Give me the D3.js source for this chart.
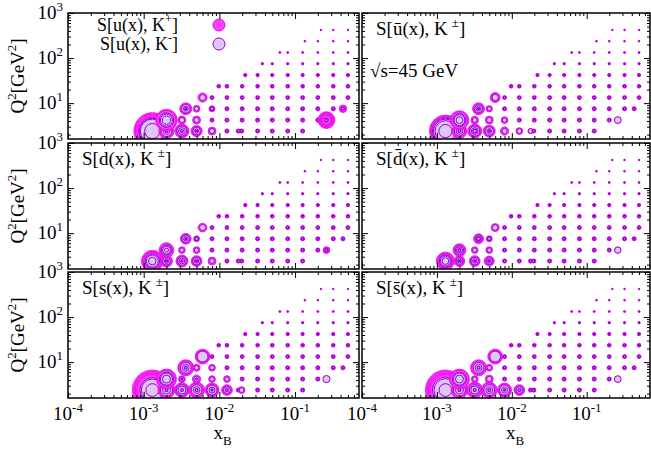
<!DOCTYPE html>
<html>
<head>
<meta charset="utf-8">
<script src="https://cdn.jsdelivr.net/npm/d3@7"></script>
<style>
  body { margin: 0; background: #fff; }
  svg text { font-family: "Liberation Serif", "Times New Roman", serif; fill: #000; }
</style>
</head>
<body>
<svg width="651" height="452"></svg>
<script>
// Q2 rows of the (x, Q2) bins and the x centres inside each row
const q2Rows = [2.4, 4.2, 7.5, 13.3, 23.7, 42, 75, 133, 237, 420];
const xRows = [
    [1.3e-3, 2.0e-3, 3.2e-3, 5.0e-3, 8.0e-3, 1.26e-2, 1.78e-2, 1.97e-2, 3.2e-2, 5.0e-2, 8.0e-2, 0.126],
    [2.0e-3, 3.2e-3, 5.0e-3, 8.0e-3, 1.26e-2, 2.0e-2, 3.2e-2, 5.0e-2, 8.0e-2, 0.126, 0.2, 0.26],
    [3.6e-3, 5.0e-3, 8.0e-3, 1.26e-2, 2.0e-2, 3.2e-2, 5.0e-2, 8.0e-2, 0.126, 0.2, 0.32, 0.43],
    [6.0e-3, 8.0e-3, 1.26e-2, 2.0e-2, 3.2e-2, 5.0e-2, 8.0e-2, 0.126, 0.2, 0.32, 0.5],
    [9.8e-3, 1.26e-2, 2.0e-2, 3.2e-2, 5.0e-2, 8.0e-2, 0.126, 0.2, 0.32, 0.5],
    [2.2e-2, 3.2e-2, 5.0e-2, 8.0e-2, 0.126, 0.2, 0.32, 0.5],
    [3.7e-2, 5.0e-2, 8.0e-2, 0.126, 0.2, 0.32, 0.5],
    [6.3e-2, 8.0e-2, 0.126, 0.2, 0.32, 0.5],
    [0.135, 0.2, 0.32, 0.5],
    [0.22, 0.32, 0.5]
];

// typical |S| of the small points in each Q2 row (K+ and K-)
const dotPlus = [10.5, 10.5, 10.5, 10, 9.5, 8.5, 6, 5, 4.5, 4];
const dotMinus = [6.5, 6.5, 6.5, 6, 5.5, 4.5, 2.5, 2, 1.5, 1.5];

// bins with larger sensitivity: [x, Q2, K+ values, K- values] (one value per z bin)
const ringsU = [
    [1.3e-3, 2.4, [92, 85, 78, 70], [65, 60, 38]],
    [2.0e-3, 2.4, [38, 32], [27, 17, 7]],
    [2.0e-3, 4.2, [54, 48], [36, 30, 21]],
    [3.2e-3, 2.4, [35, 30], [25, 17, 7]],
    [3.2e-3, 4.2, [20], [13]],
    [3.6e-3, 7.5, [30, 25], [21, 12, 5]],
    [5.0e-3, 2.4, [28, 23], [19, 10, 4]],
    [5.0e-3, 4.2, [20], [13]],
    [5.0e-3, 7.5, [17], [11]],
    [6.0e-3, 13.3, [23], [15]],
    [8.0e-3, 2.4, [20], [13]],
    [8.0e-3, 7.5, [15], [9]],
    [0.26, 4.2, [42, 37, 32, 27, 22], [8]],
    [0.43, 7.5, [19, 15], [7]]
];
const ringsUbar = [
    [1.3e-3, 2.4, [80, 75, 70], [65, 60, 52, 33]],
    [2.0e-3, 2.4, [37, 32], [25, 17, 7]],
    [2.0e-3, 4.2, [47, 42], [32, 27, 17]],
    [3.2e-3, 2.4, [35, 30], [25, 17, 9]],
    [3.2e-3, 4.2, [19], [12]],
    [3.6e-3, 7.5, [30, 25], [20, 12, 5]],
    [5.0e-3, 2.4, [30, 25], [21, 12, 5]],
    [5.0e-3, 4.2, [20], [13]],
    [5.0e-3, 7.5, [16], [10]],
    [6.0e-3, 13.3, [25, 20], [16]],
    [8.0e-3, 2.4, [21], [13]],
    [8.0e-3, 4.2, [17], [11]],
    [1.26e-2, 2.4, [17], [12]],
    [1.78e-2, 2.4, [13], [12]],
    [0.26, 4.2, [15], [17]]
];
const ringsD = [
    [1.3e-3, 2.4, [54, 48, 43], [36, 30, 19]],
    [2.0e-3, 2.4, [30, 25], [20, 12, 5]],
    [2.0e-3, 4.2, [37, 32], [25, 20, 10]],
    [3.2e-3, 2.4, [30, 26], [21, 14, 5]],
    [3.2e-3, 4.2, [17], [11]],
    [3.6e-3, 7.5, [27, 22], [19, 11, 4]],
    [5.0e-3, 2.4, [27, 22], [19, 11, 4]],
    [5.0e-3, 4.2, [17], [11]],
    [5.0e-3, 7.5, [15], [9]],
    [6.0e-3, 13.3, [22], [15]],
    [8.0e-3, 2.4, [20], [12]],
    [0.26, 4.2, [17, 14], [7]]
];
const ringsDbar = [
    [1.3e-3, 2.4, [45, 40, 35], [30, 25, 17]],
    [2.0e-3, 2.4, [27, 22], [17, 10, 4]],
    [2.0e-3, 4.2, [32, 27], [21, 15, 7]],
    [3.2e-3, 2.4, [27, 22], [19, 11, 4]],
    [3.2e-3, 4.2, [17], [11]],
    [3.6e-3, 7.5, [25, 20], [16, 9]],
    [5.0e-3, 2.4, [25, 20], [17, 10, 4]],
    [5.0e-3, 4.2, [17], [11]],
    [5.0e-3, 7.5, [15], [9]],
    [6.0e-3, 13.3, [20], [14]],
    [0.26, 4.2, [15], [16]]
];
const ringsS = [
    [1.3e-3, 2.4, [100, 92, 85, 78], [62, 55, 32]],
    [2.0e-3, 2.4, [42, 37], [30, 20, 7]],
    [2.0e-3, 4.2, [50, 45], [35, 30, 20]],
    [3.2e-3, 2.4, [37, 32], [27, 20, 7]],
    [3.2e-3, 4.2, [17], [12, 4]],
    [3.6e-3, 7.5, [40, 35], [27, 17, 7]],
    [5.0e-3, 2.4, [40, 35], [27, 17, 7]],
    [5.0e-3, 4.2, [21], [14, 4]],
    [5.0e-3, 7.5, [18], [11]],
    [6.0e-3, 13.3, [37, 32], [27]],
    [8.0e-3, 2.4, [35, 30], [25, 15, 5]],
    [8.0e-3, 4.2, [17], [11]],
    [8.0e-3, 7.5, [17], [11]],
    [1.26e-2, 2.4, [27, 22], [17, 7]],
    [1.26e-2, 4.2, [17], [11]],
    [1.97e-2, 2.4, [17], [12]],
    [0.26, 4.2, [15], [18]]
];
const ringsSbar = [
    [1.3e-3, 2.4, [100, 92, 85, 78], [65, 57, 32]],
    [2.0e-3, 2.4, [42, 37], [30, 20, 7]],
    [2.0e-3, 4.2, [50, 45], [35, 30, 20]],
    [3.2e-3, 2.4, [40, 35], [27, 20, 7]],
    [3.2e-3, 4.2, [17], [11]],
    [3.6e-3, 7.5, [40, 35], [27, 17, 7]],
    [5.0e-3, 2.4, [40, 35], [27, 17, 7]],
    [5.0e-3, 4.2, [20], [13]],
    [5.0e-3, 7.5, [17], [11]],
    [6.0e-3, 13.3, [37, 32], [27]],
    [8.0e-3, 2.4, [35, 30], [25, 15, 5]],
    [1.26e-2, 2.4, [27, 22], [17, 7]],
    [0.26, 4.2, [15], [17]]
];

const xTicks = [1e-4, 1e-3, 1e-2, 1e-1];
const xTickLabels = ['-4', '-3', '-2', '-1'];
const yTicks = [10, 100, 1000];
const yTickLabels = ['1', '2', '3'];

const panels = [
    {rings: ringsU, col: 0, row: 0, label: null},
    {rings: ringsUbar, col: 1, row: 0, label: 'S[\u016b(x), K'},
    {rings: ringsD, col: 0, row: 1, label: 'S[d(x), K'},
    {rings: ringsDbar, col: 1, row: 1, label: 'S[d\u0304(x), K'},
    {rings: ringsS, col: 0, row: 2, label: 'S[s(x), K'},
    {rings: ringsSbar, col: 1, row: 2, label: 'S[s\u0304(x), K'}
];

const colBox = [[68, 359], [362, 650]];
const rowBox = [[13, 139], [143, 269], [272, 398]];

const plusFill = '#ff40ff', plusStroke = '#e600e6';
const minusFill = '#e0c6f2', minusStroke = '#9400d3';
const fontSize = 19;

const svg = d3.select('svg');
const rScale = d3.scaleLinear().domain([0, 100]).range([0, 20]);

// text with super/subscripts: parts = [[text, 'sup' | 'sub' | undefined, dx], ...]
function richText(g, x, y, parts, anchor, size) {
    size = size || fontSize;
    const t = g.append('text')
        .attr('x', x).attr('y', y)
        .attr('text-anchor', anchor || 'start')
        .style('font-size', size + 'px');
    let shift = 0;
    parts.forEach(p => {
        let target = 0, fs = size;
        if (p[1] === 'sup') { target = -0.42 * size; fs = size * 0.68; }
        if (p[1] === 'sub') { target = 0.3 * size; fs = size * 0.68; }
        t.append('tspan')
            .attr('dy', target - shift)
            .attr('dx', p[2] || 0)
            .style('font-size', fs + 'px')
            .text(p[0]);
        shift = target;
    });
    return t;
}

function minorTicks(lo, hi) {
    const out = [];
    for (let e = Math.floor(Math.log10(lo)); e <= Math.ceil(Math.log10(hi)); e++) {
        for (let m = 2; m <= 9; m++) {
            const v = m * Math.pow(10, e);
            if (v > lo && v < hi) out.push(v);
        }
    }
    return out;
}

panels.forEach((p, i) => {
    const [x0, x1] = colBox[p.col];
    const [y0, y1] = rowBox[p.row];
    const xScale = d3.scaleLog().domain([1e-4, 0.7]).range([x0, x1]);
    const yScale = d3.scaleLog().domain([1.6, 1000]).range([y1, y0]);

    const g = svg.append('g');

    // clip bubbles at the frame
    svg.append('clipPath').attr('id', 'clip' + i)
        .append('rect')
        .attr('x', x0).attr('y', y0)
        .attr('width', x1 - x0).attr('height', y1 - y0);

    const lookup = new Map(p.rings.map(r => [r[0] + '|' + r[1], r]));

    // one entry per bin, K+ circles drawn first and K- circles over them
    const bins = [];
    xRows.forEach((xs, ri) => {
        xs.forEach(xv => {
            const r = lookup.get(xv + '|' + q2Rows[ri]);
            bins.push({
                x: xv, q2: q2Rows[ri], row: ri,
                plus: r ? r[2] : [dotPlus[ri]],
                minus: r ? r[3] : [dotMinus[ri]]
            });
        });
    });

    const marks = g.append('g').attr('clip-path', `url(#clip${i})`);
    bins.forEach(b => {
        const cx = xScale(b.x), cy = yScale(b.q2);
        marks.selectAll(null)
            .data(b.plus)
            .enter()
            .append('circle')
            .attr('cx', cx).attr('cy', cy)
            .attr('r', d => rScale(d))
            .style('fill', plusFill)
            .style('stroke', plusStroke)
            .style('stroke-width', 0.8);
        marks.selectAll(null)
            .data(b.minus)
            .enter()
            .append('circle')
            .attr('cx', cx).attr('cy', cy)
            .attr('r', d => rScale(d))
            .style('fill', minusFill)
            .style('stroke', minusStroke)
            .style('stroke-width', d => rScale(d) < 2 ? 1.4 : 1);
    });

    // ticks on all four sides, pointing inwards
    const axes = [
        [d3.axisBottom(xScale), `translate(0,${y1})`, xTicks, minorTicks(1e-4, 0.7)],
        [d3.axisTop(xScale), `translate(0,${y0})`, xTicks, minorTicks(1e-4, 0.7)],
        [d3.axisLeft(yScale), `translate(${x0},0)`, yTicks, minorTicks(1.6, 1000)],
        [d3.axisRight(yScale), `translate(${x1},0)`, yTicks, minorTicks(1.6, 1000)]
    ];
    axes.forEach(a => {
        g.append('g').attr('transform', a[1])
            .call(a[0].tickValues(a[2]).tickSize(-6).tickFormat(''))
            .call(s => s.select('.domain').remove());
        g.append('g').attr('transform', a[1])
            .call(a[0].tickValues(a[3]).tickSize(-3).tickFormat(''))
            .call(s => s.select('.domain').remove());
    });
    g.selectAll('.tick line').style('stroke', '#000').style('stroke-width', 1);

    g.append('rect')
        .attr('x', x0).attr('y', y0)
        .attr('width', x1 - x0).attr('height', y1 - y0)
        .style('fill', 'none')
        .style('stroke', '#000')
        .style('stroke-width', 1.5);

    // tick labels
    if (p.row === 2) {
        xTicks.forEach((v, k) => {
            richText(g, xScale(v), y1 + 22, [['10'], [xTickLabels[k], 'sup']], 'middle');
        });
        richText(g, (x0 + x1) / 2 + 9, y1 + 41, [['x'], ['B', 'sub']], 'middle');
    }
    if (p.col === 0) {
        yTicks.forEach((v, k) => {
            richText(g, x0 - 5, yScale(v) + 6, [['10'], [yTickLabels[k], 'sup']], 'end');
        });
        richText(g, 0, 0, [['Q'], ['2', 'sup'], ['[GeV'], ['2', 'sup'], [']']], 'middle')
            .attr('transform', `translate(24,${(y0 + y1) / 2}) rotate(-90)`);
    }

    if (p.label) {
        richText(g, x0 + 14, y0 + 22, [[p.label], ['\u00b1', 'sup', 4], [']']]);
    }
    if (i === 1) {
        richText(g, x0 + 8, y0 + 64, [['\u221as=45 GeV']]);
    }
    if (i === 0) {
        // key
        const keys = [['+', plusFill, plusStroke], ['-', minusFill, minusStroke]];
        keys.forEach((k, j) => {
            const ky = y0 + 12 + j * 19;
            richText(g, 178, ky + 6, [['S[u(x), K'], [k[0], 'sup'], [']']], 'end', 18);
            g.append('circle')
                .attr('cx', 219).attr('cy', ky)
                .attr('r', 6)
                .style('fill', k[1])
                .style('stroke', k[2])
                .style('stroke-width', 1);
        });
    }
});
</script>
</body>
</html>
